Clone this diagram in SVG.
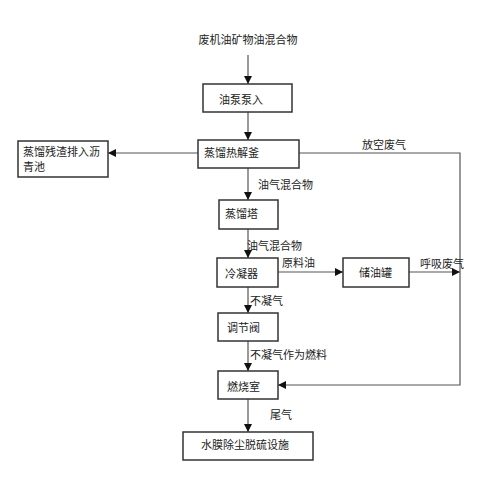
<svg xmlns="http://www.w3.org/2000/svg" width="500" height="500" viewBox="0 0 500 500">
<defs>
<marker id="ah" markerUnits="userSpaceOnUse" markerWidth="8" markerHeight="8" viewBox="0 0 8 8" refX="8" refY="4" orient="auto">
<path d="M0,0 L8,4 L0,8 Z" fill="#111"/>
</marker>
</defs>
<style>
text{font-family:"Noto Sans CJK SC","Liberation Serif",serif;font-size:11px;fill:#222;}
.box{fill:#fff;stroke:#333;stroke-width:1.5;}
.ln{fill:none;stroke:#555;stroke-width:1.2;}
.arr{marker-end:url(#ah);}
</style>
<rect width="500" height="500" fill="#fff"/>
<g id="connectors">
<line class="ln arr" x1="248" y1="55" x2="248" y2="84"/>
<line class="ln arr" x1="248" y1="112" x2="248" y2="140"/>
<line class="ln arr" x1="198" y1="153" x2="108" y2="153"/>
<line class="ln arr" x1="248" y1="168" x2="248" y2="200"/>
<line class="ln arr" x1="248" y1="229" x2="248" y2="258"/>
<line class="ln arr" x1="278" y1="272" x2="343" y2="272"/>
<line class="ln arr" x1="409" y1="272" x2="460" y2="272"/>
<line class="ln arr" x1="248" y1="287" x2="248" y2="313"/>
<line class="ln arr" x1="248" y1="341" x2="248" y2="371"/>
<line class="ln arr" x1="248" y1="399" x2="248" y2="432"/>
<polyline class="ln arr" points="299,153 460,153 460,385 278,385"/>
<text x="362" y="149">放空废气</text>
<text x="258" y="189">油气混合物</text>
<text x="247" y="250">油气混合物</text>
<text x="282" y="267">原料油</text>
<text x="420" y="268">呼吸废气</text>
<text x="250" y="305">不凝气</text>
<text x="250" y="359">不凝气作为燃料</text>
<text x="270" y="419">尾气</text>
</g>
<g id="title"><text x="248" y="44" text-anchor="middle">废机油矿物油混合物</text></g>
<g id="pump"><rect class="box" x="203" y="84" width="89" height="28"/><text x="219" y="104">油泵泵入</text></g>
<g id="kettle"><rect class="box" x="198" y="140" width="101" height="28"/><text x="204" y="157">蒸馏热解釜</text></g>
<g id="residue"><rect class="box" x="18" y="141" width="90" height="36"/><text x="23" y="156">蒸馏残渣排入沥</text><text x="23" y="171">青池</text></g>
<g id="tower"><rect class="box" x="219" y="200" width="59" height="29"/><text x="225" y="218">蒸馏塔</text></g>
<g id="condenser"><rect class="box" x="217" y="258" width="61" height="29"/><text x="225" y="278">冷凝器</text></g>
<g id="tank"><rect class="box" x="343" y="258" width="66" height="29"/><text x="359" y="277">储油罐</text></g>
<g id="valve"><rect class="box" x="218" y="313" width="60" height="28"/><text x="227" y="332">调节阀</text></g>
<g id="burner"><rect class="box" x="218" y="371" width="60" height="28"/><text x="227" y="391">燃烧室</text></g>
<g id="scrubber"><rect class="box" x="183" y="432" width="130" height="28"/><text x="201" y="449">水膜除尘脱硫设施</text></g>
</svg>
